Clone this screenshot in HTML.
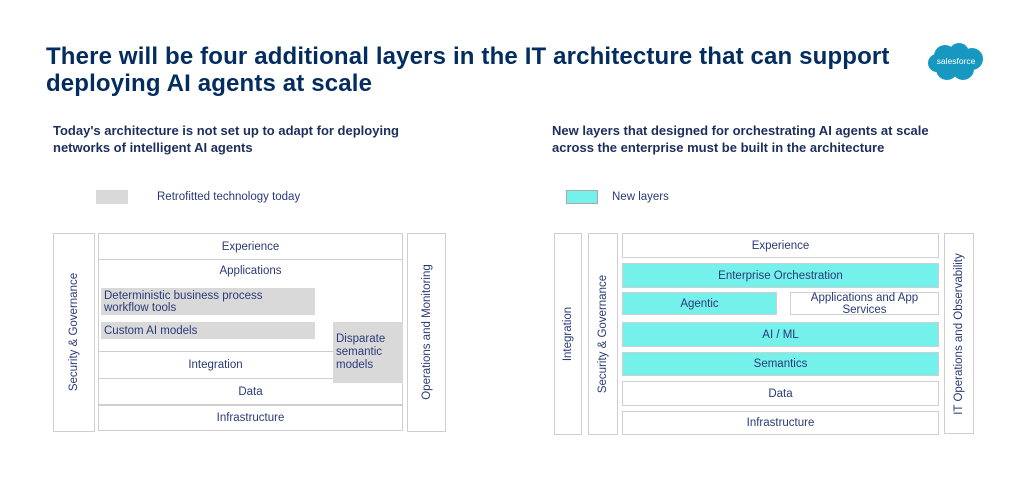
<!DOCTYPE html>
<html><head><meta charset="utf-8"><style>
body{margin:0;width:1023px;height:495px;background:#fff;position:relative;overflow:hidden;font-family:"Liberation Sans",sans-serif;color:#1f2d6b}
.a{position:absolute}
.t{position:absolute;left:46px;font-size:24px;font-weight:bold;color:#032d60;white-space:nowrap;letter-spacing:0.15px}
.s{position:absolute;font-size:13px;font-weight:bold;color:#1c2e5c;line-height:17px}
.b{position:absolute;box-sizing:border-box;border:1.5px solid #cfcfcf;background:#fff;font-size:11.5px;display:flex;align-items:center;justify-content:center;text-align:center;color:#2a3a78;line-height:12px}
.g{background:#d9d9d9;border:none;justify-content:flex-start;padding-left:3px;text-align:left}
.c{background:#74f1ea;border-color:#cfcfcf}
.v{position:absolute;font-size:11.5px;color:#2a3a78;white-space:nowrap;transform:translate(-50%,-50%) rotate(-90deg)}
</style></head><body>
<div class="t" style="top:43px">There will be four additional layers in the IT architecture that can support</div>
<div class="t" style="top:70px">deploying AI agents at scale</div>
<svg class="a" style="left:927px;top:42px" width="58" height="40" viewBox="0 0 58 40"><g fill="#1798c1"><circle cx="18" cy="14" r="11"/><circle cx="32" cy="11" r="10"/><circle cx="45" cy="17" r="11"/><circle cx="36" cy="27" r="11"/><circle cx="20" cy="27" r="11"/><circle cx="10" cy="21" r="9"/></g><text x="29" y="22" font-size="8.5" fill="#fff" text-anchor="middle" font-family="Liberation Sans">salesforce</text></svg>
<div class="s" style="left:53px;top:122px">Today's architecture is not set up to adapt for deploying<br>networks of intelligent AI agents</div>
<div class="s" style="left:552px;top:122px">New layers that designed for orchestrating AI agents at scale<br>across the enterprise must be built in the architecture</div>
<div class="a" style="left:96px;top:190px;width:32px;height:14px;background:#d9d9d9"></div>
<div class="a" style="left:157px;top:191px;font-size:11.5px;color:#2a3a78">Retrofitted technology today</div>
<div class="a" style="left:566px;top:190px;width:32px;height:14px;background:#74f1ea;box-sizing:border-box;border:1px solid #aaa"></div>
<div class="a" style="left:612px;top:191px;font-size:11.5px;color:#2a3a78">New layers</div>

<!-- left -->
<div class="b" style="left:53px;top:233px;width:42px;height:199px"></div>
<div class="v" style="left:74px;top:332px">Security &amp; Governance</div>
<div class="b" style="left:98px;top:233px;width:305px;height:27px">Experience</div>
<div class="b" style="left:98px;top:259px;width:305px;height:93px;align-items:flex-start;padding-top:5px">Applications</div>
<div class="b g" style="left:101px;top:288px;width:214px;height:27px">Deterministic business process<br>workflow tools</div>
<div class="b g" style="left:101px;top:322px;width:214px;height:17px">Custom AI models</div>
<div class="b" style="left:98px;top:351px;width:305px;height:28px;padding-right:70px">Integration</div>
<div class="b" style="left:98px;top:378px;width:305px;height:27px">Data</div>
<div class="b" style="left:98px;top:405px;width:305px;height:26px">Infrastructure</div>
<div class="b g" style="left:333px;top:322px;width:70px;height:61px;line-height:13px">Disparate<br>semantic<br>models</div>
<div class="b" style="left:407px;top:233px;width:39px;height:199px"></div>
<div class="v" style="left:427px;top:332px">Operations and Monitoring</div>

<!-- right -->
<div class="b" style="left:554px;top:233px;width:28px;height:202px"></div>
<div class="v" style="left:568px;top:334px">Integration</div>
<div class="b" style="left:588px;top:233px;width:30px;height:202px"></div>
<div class="v" style="left:603px;top:334px">Security &amp; Governance</div>
<div class="b" style="left:622px;top:233px;width:317px;height:25px">Experience</div>
<div class="b c" style="left:622px;top:263px;width:317px;height:25px">Enterprise Orchestration</div>
<div class="b c" style="left:622px;top:292px;width:155px;height:23px">Agentic</div>
<div class="b" style="left:790px;top:292px;width:149px;height:23px">Applications and App<br>Services</div>
<div class="b c" style="left:622px;top:322px;width:317px;height:25px">AI / ML</div>
<div class="b c" style="left:622px;top:352px;width:317px;height:24px">Semantics</div>
<div class="b" style="left:622px;top:381px;width:317px;height:25px">Data</div>
<div class="b" style="left:622px;top:411px;width:317px;height:24px">Infrastructure</div>
<div class="b" style="left:944px;top:233px;width:30px;height:201px"></div>
<div class="v" style="left:959px;top:334px">IT Operations and Observability</div>
</body></html>
